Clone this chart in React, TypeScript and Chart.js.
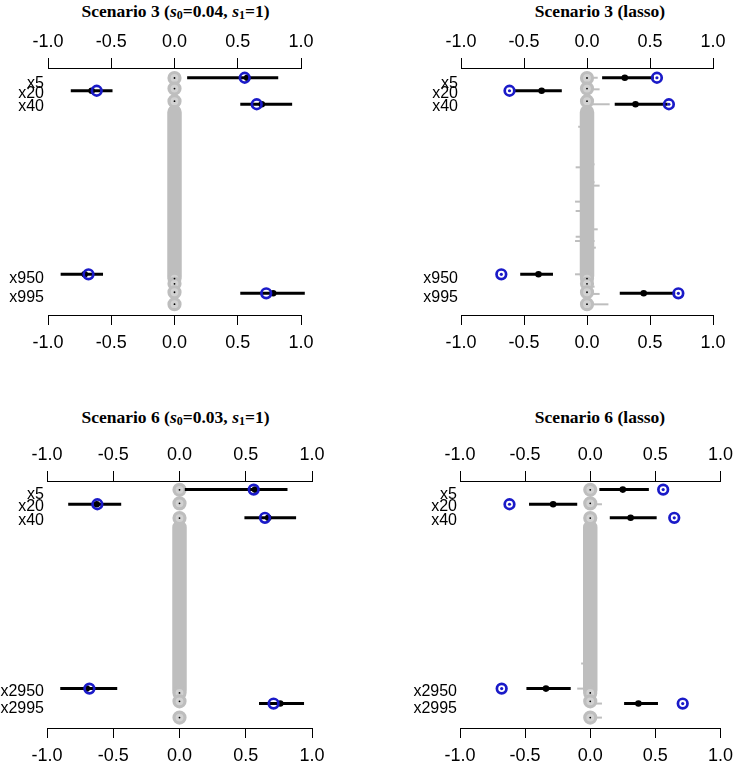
import React, { useEffect, useRef } from "react";
import { Chart, registerables } from "chart.js";
Chart.register(...registerables);

const GREY = "#BEBEBE";
const BLUE = "#1A1AC8";
const SANS = "'Liberation Sans', Arial, sans-serif";

// x-axis ticks (coefficient scale)
const xTickValues = [-1, -0.5, 0, 0.5, 1];

// ---------- Scenario 3 (p = 1000) ----------
const s3Names = ["x5", "x20", "x40", "x950", "x995"];
const s3LabelRows = [1.22, 1.95, 2.98, 16.2, 17.65];
const s3PointRows = [0.75, 1.75, 2.79, 15.87, 17.33];
const s3Truth = [0.555, -0.615, 0.65, -0.68, 0.725];
// spike-and-slab posterior (s0=0.04, s1=1)
const s3Est = [0.575, -0.655, 0.69, -0.71, 0.78];
const s3Lo = [0.1, -0.82, 0.52, -0.9, 0.52];
const s3Hi = [0.82, -0.49, 0.93, -0.565, 1.03];
// lasso
const s3LassoEst = [0.3, -0.36, 0.385, -0.385, 0.45];
const s3LassoLo = [0.12, -0.58, 0.22, -0.53, 0.26];
const s3LassoHi = [0.53, -0.2, 0.64, -0.27, 0.7];
// null variables (true value 0)
const s3NullRows = [0.77, 1.58, 2.55, 16.2, 16.6, 17.25, 18.17];
const s3NullBand = [3.4, 16.0];
const s3LassoNullRows = [0.75, 1.64, 2.79, 4.52, 6.05, 7.41, 7.64, 8.23, 8.79, 9.05, 10.28, 11.0, 12.41, 12.98, 13.31, 13.82, 15.08, 15.87, 16.82, 17.38, 18.18];
const s3LassoNullLo = [0, 0, 0, -0.07, 0, 0, -0.09, 0, 0, 0, -0.095, -0.09, 0, -0.09, -0.095, 0, 0, -0.095, 0, 0, 0];
const s3LassoNullHi = [0.085, 0.1, 0.18, 0, 0.05, 0.06, 0, 0.05, 0.06, 0.1, 0, 0, 0.085, 0, 0.06, 0.07, 0.05, 0, 0.06, 0.1, 0.17];

// ---------- Scenario 6 (p = 3000) ----------
const s6Names = ["x5", "x20", "x40", "x2950", "x2995"];
const s6LabelRows = [1.08, 2.0, 3.02, 16.23, 17.51];
const s6PointRows = [0.66, 1.79, 2.83, 15.97, 17.12];
const s6Truth = [0.56, -0.62, 0.645, -0.68, 0.71];
// spike-and-slab posterior (s0=0.03, s1=1)
const s6Est = [0.57, -0.625, 0.67, -0.7, 0.76];
const s6Lo = [0.04, -0.84, 0.49, -0.9, 0.6];
const s6Hi = [0.815, -0.44, 0.88, -0.47, 0.94];
// lasso
const s6LassoEst = [0.25, -0.285, 0.31, -0.34, 0.37];
const s6LassoLo = [0.07, -0.47, 0.15, -0.49, 0.26];
const s6LassoHi = [0.45, -0.1, 0.51, -0.15, 0.52];
// null variables (true value 0)
const s6NullRows = [0.68, 1.72, 2.85, 16.3, 16.95, 18.2];
const s6NullBand = [3.56, 16.1];
const s6LassoNullRows = [1.79, 5.7, 9.2, 14.04, 15.97, 17.12, 18.2];
const s6LassoNullLo = [0, 0, 0, -0.07, -0.1, 0, 0];
const s6LassoNullHi = [0.09, 0.05, 0.05, 0, 0, 0.09, 0.09];

type Panel = {
  left: number; top: number; width: number; height: number;
  yWidth: number; topH: number; bottomH: number; padRight: number; labelPad: number;
  names: string[]; labelRows: number[]; pointRows: number[];
  truth: number[]; est: number[]; lo: number[]; hi: number[]; lasso: boolean;
  nullRows: number[]; nullBand: number[];
  nullCiRows: number[]; nullCiLo: number[]; nullCiHi: number[];
};

function buildDatasets(p: Panel) {
  const ds: any[] = [];
  const base = { clip: false, showLine: false };
  if (p.lasso) {
    ds.push({ ...base, data: p.truth.map((v, i) => ({ x: v, y: p.pointRows[i] })), pointRadius: 1.6, pointBorderWidth: 0, pointBackgroundColor: BLUE, order: 0 });
  }
  ds.push({ ...base, data: p.truth.map((v, i) => ({ x: v, y: p.pointRows[i] })), pointRadius: 4.8, pointBorderWidth: 2.7, pointBorderColor: BLUE, pointBackgroundColor: "rgba(0,0,0,0)", order: 1 });
  ds.push({ ...base, data: p.est.map((v, i) => ({ x: v, y: p.pointRows[i] })), pointRadius: 3.3, pointBorderWidth: 0, pointBackgroundColor: "#000", order: 2 });
  p.lo.forEach((lo, i) => {
    ds.push({ ...base, showLine: true, data: [{ x: lo, y: p.pointRows[i] }, { x: p.hi[i], y: p.pointRows[i] }], borderColor: "#000", borderWidth: 3, pointRadius: 0, order: 3 });
  });
  ds.push({ ...base, data: p.nullRows.map((r) => ({ x: 0, y: r })), pointRadius: 0.9, pointBorderWidth: 0, pointBackgroundColor: "#000", order: 4 });
  ds.push({ ...base, data: p.nullRows.map((r) => ({ x: 0, y: r })), pointRadius: 5.5, pointBorderWidth: 3.2, pointBorderColor: GREY, pointBackgroundColor: "#D2D2D2", order: 5 });
  ds.push({ ...base, showLine: true, data: p.nullBand.map((r) => ({ x: 0, y: r })), borderColor: GREY, borderWidth: 14.5, borderCapStyle: "round", pointRadius: 0, order: 6 });
  p.nullCiRows.forEach((r, i) => {
    ds.push({ ...base, showLine: true, data: [{ x: p.nullCiLo[i], y: r }, { x: p.nullCiHi[i], y: r }], borderColor: GREY, borderWidth: 2, pointRadius: 0, order: 7 });
  });
  return ds;
}

function xAxis(position: "top" | "bottom", h: number) {
  return {
    type: "linear",
    position,
    min: -1,
    max: 1,
    afterBuildTicks: (s: any) => { s.ticks = xTickValues.map((v) => ({ value: v })); },
    ticks: { callback: (v: any) => Number(v).toFixed(1), font: { family: SANS, size: 18 }, color: "#000", padding: position === "top" ? 5 : 7, maxRotation: 0, autoSkip: false },
    grid: { drawOnChartArea: false, drawTicks: true, tickLength: 10, color: "#000", lineWidth: 1 },
    border: { display: true, color: "#000", width: 1 },
    afterFit: (s: any) => { s.height = h; },
  };
}

function PanelChart({ p }: { p: Panel }) {
  const ref = useRef<HTMLCanvasElement>(null);
  useEffect(() => {
    const chart = new Chart(ref.current as HTMLCanvasElement, {
      type: "scatter",
      data: { datasets: buildDatasets(p) },
      options: {
        responsive: false,
        animation: false,
        devicePixelRatio: 1,
        events: [],
        layout: { padding: { left: 0, right: p.padRight, top: 0, bottom: 0 } },
        plugins: { legend: { display: false }, tooltip: { enabled: false }, title: { display: false } },
        scales: {
          x: xAxis("bottom", p.bottomH) as any,
          x2: xAxis("top", p.topH) as any,
          y: {
            type: "linear",
            position: "left",
            reverse: true,
            min: 0,
            max: 19,
            afterBuildTicks: (s: any) => { s.ticks = p.labelRows.map((v) => ({ value: v })); },
            ticks: { callback: (_v: any, i: number) => p.names[i], font: { family: SANS, size: 16 }, color: "#000", padding: p.labelPad, autoSkip: false },
            grid: { display: false, drawTicks: false },
            border: { display: false },
            afterFit: (s: any) => { s.width = p.yWidth; },
          } as any,
        },
      },
    });
    return () => chart.destroy();
  }, []);
  return (
    <canvas
      ref={ref}
      width={p.width}
      height={p.height}
      style={{ position: "absolute", left: p.left, top: p.top, width: p.width, height: p.height }}
    />
  );
}

const panels: Panel[] = [
  { left: 0, top: 20, width: 370, height: 345, yWidth: 48, topH: 48, bottomH: 50, padRight: 69, labelPad: 4,
    names: s3Names, labelRows: s3LabelRows, pointRows: s3PointRows, truth: s3Truth, est: s3Est, lo: s3Lo, hi: s3Hi, lasso: false,
    nullRows: s3NullRows, nullBand: s3NullBand, nullCiRows: [], nullCiLo: [], nullCiHi: [] },
  { left: 370, top: 20, width: 370, height: 345, yWidth: 91, topH: 48, bottomH: 50, padRight: 27, labelPad: 3,
    names: s3Names, labelRows: s3LabelRows, pointRows: s3PointRows, truth: s3Truth, est: s3LassoEst, lo: s3LassoLo, hi: s3LassoHi, lasso: true,
    nullRows: s3NullRows, nullBand: s3NullBand, nullCiRows: s3LassoNullRows, nullCiLo: s3LassoNullLo, nullCiHi: s3LassoNullHi },
  { left: 0, top: 430, width: 370, height: 335, yWidth: 47, topH: 51, bottomH: 37, padRight: 58, labelPad: 3,
    names: s6Names, labelRows: s6LabelRows, pointRows: s6PointRows, truth: s6Truth, est: s6Est, lo: s6Lo, hi: s6Hi, lasso: false,
    nullRows: s6NullRows, nullBand: s6NullBand, nullCiRows: [], nullCiLo: [], nullCiHi: [] },
  { left: 370, top: 430, width: 370, height: 335, yWidth: 90, topH: 51, bottomH: 37, padRight: 15, labelPad: 3,
    names: s6Names, labelRows: s6LabelRows, pointRows: s6PointRows, truth: s6Truth, est: s6LassoEst, lo: s6LassoLo, hi: s6LassoHi, lasso: true,
    nullRows: s6NullRows, nullBand: s6NullBand, nullCiRows: s6LassoNullRows, nullCiLo: s6LassoNullLo, nullCiHi: s6LassoNullHi },
];

const subStyle: React.CSSProperties = { fontSize: 12, verticalAlign: "-2px", lineHeight: 0 };

function Title({ cx, top, children }: { cx: number; top: number; children: React.ReactNode }) {
  return (
    <div style={{ position: "absolute", left: cx - 160, top, width: 320, textAlign: "center", fontFamily: "'Liberation Serif', 'Times New Roman', serif", fontWeight: "bold", fontSize: 17.5, lineHeight: "17.5px", color: "#000", whiteSpace: "nowrap" }}>
      {children}
    </div>
  );
}

export default function App() {
  return (
    <div style={{ position: "absolute", left: 0, top: 0, width: 740, height: 765, background: "#fff", overflow: "hidden" }}>
      <Title cx={175.5} top={2.8}>Scenario 3 (<i>s</i><sub style={subStyle}>0</sub>=0.04, <i>s</i><sub style={subStyle}>1</sub>=1)</Title>
      <Title cx={600} top={2.8}>Scenario 3 (lasso)</Title>
      <Title cx={175.5} top={409.4}>Scenario 6 (<i>s</i><sub style={subStyle}>0</sub>=0.03, <i>s</i><sub style={subStyle}>1</sub>=1)</Title>
      <Title cx={600} top={409.4}>Scenario 6 (lasso)</Title>
      {panels.map((p, i) => <PanelChart key={i} p={p} />)}
    </div>
  );
}
